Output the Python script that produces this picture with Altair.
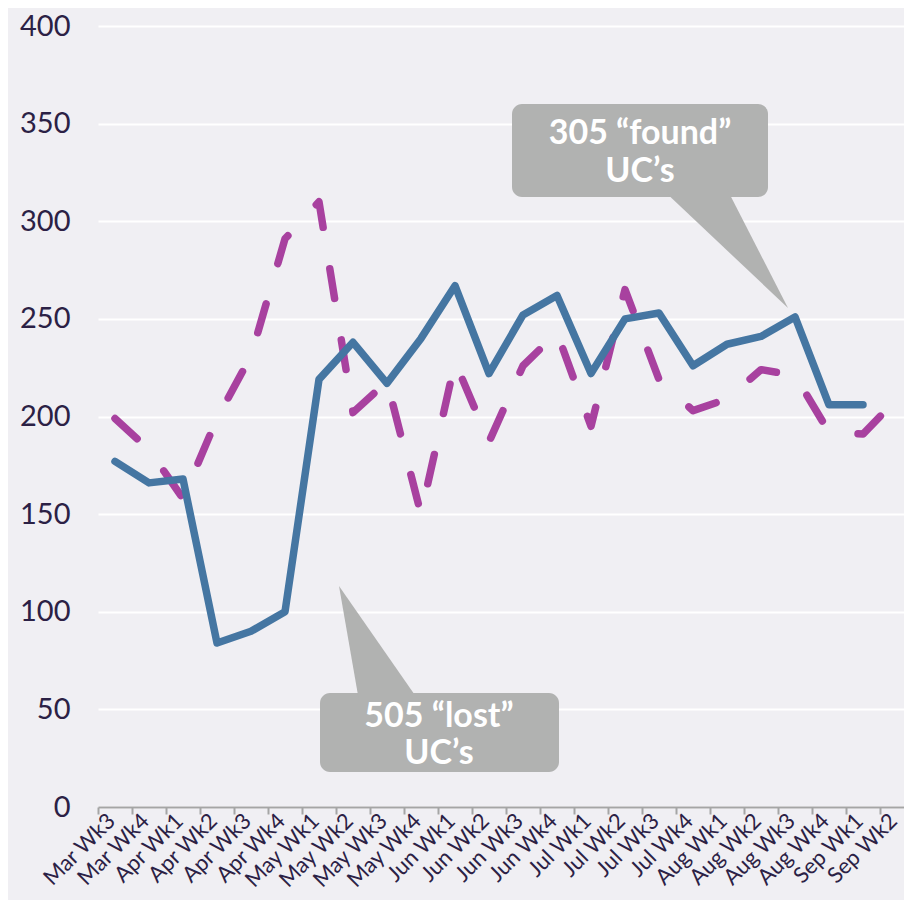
import altair as alt
import pandas as pd

weeks = ["Mar Wk3", "Mar Wk4", "Apr Wk1", "Apr Wk2", "Apr Wk3", "Apr Wk4",
         "May Wk1", "May Wk2", "May Wk3", "May Wk4", "Jun Wk1", "Jun Wk2",
         "Jun Wk3", "Jun Wk4", "Jul Wk1", "Jul Wk2", "Jul Wk3", "Jul Wk4",
         "Aug Wk1", "Aug Wk2", "Aug Wk3", "Aug Wk4", "Sep Wk1", "Sep Wk2"]
solid_values = [177, 166, 168, 84, 90, 100, 219, 238, 217, 240, 267, 222,
                252, 262, 222, 250, 253, 226, 237, 241, 251, 206, 206, None]
dashed_values = [199, 183, 158, 199, 231, 291, 310, 202, 218, 150, 228, 187,
                 226, 243, 195, 265, 219, 203, 209, 224, 221, 192, 191, 209]
y_ticks = [0, 50, 100, 150, 200, 250, 300, 350, 400]
callout_found = ["305 \u201cfound\u201d", "UC\u2019s"]
callout_lost = ["505 \u201clost\u201d", "UC\u2019s"]

BLUE = "#4576a2"
PURPLE = "#a8419f"
GRAY = "#b1b2b1"
TEXT = "#2b2145"
FONT = "Lato"

solid_df = pd.DataFrame({"week": weeks, "value": solid_values}).dropna()
dashed_df = pd.DataFrame({"week": weeks, "value": dashed_values})

x_enc = alt.X(
    "week:N", sort=weeks, title=None, bandPosition=0.5,
    scale=alt.Scale(type="band", domain=weeks, paddingInner=0, paddingOuter=0),
    axis=alt.Axis(labelAngle=-45, labelAlign="right", labelBaseline="middle",
                  labelFontSize=22, labelColor=TEXT, labelFont=FONT,
                  domainColor="#a5a5a5", domainWidth=2, tickColor="#a5a5a5",
                  tickWidth=2, tickSize=7, tickBand="extent", labelPadding=3,
                  labelOffset=-4, grid=False),
)
y_enc = alt.Y(
    "value:Q", title=None,
    scale=alt.Scale(domain=[0, 400], nice=False, zero=True),
    axis=alt.Axis(values=y_ticks, ticks=False, domain=False, labelPadding=28,
                  labelFontSize=29, labelFont=FONT, labelColor=TEXT,
                  gridColor="#ffffff", gridWidth=2),
)

one = alt.Data(values=[{"a": 1}])

# plot area origin is 2px lower than before; annotation pixel offsets adjusted
box_found = alt.Chart(one).mark_rect(color=GRAY, cornerRadius=10).encode(
    x=alt.value(414), x2=alt.value(670), y=alt.value(78), y2=alt.value(171))
ptr_found = alt.Chart(one).mark_point(
    shape="M564,163L629,163L690,282Z", filled=True, color=GRAY, opacity=1,
    strokeWidth=0, size=4).encode(x=alt.value(0), y=alt.value(0))
txt_found = alt.Chart(one).mark_text(
    text=callout_found, font=FONT, fontSize=34, fontWeight="bold",
    color="#ffffff", align="center", baseline="alphabetic", lineHeight=38).encode(
    x=alt.value(542), y=alt.value(118))

box_lost = alt.Chart(one).mark_rect(color=GRAY, cornerRadius=10).encode(
    x=alt.value(222), x2=alt.value(461), y=alt.value(667), y2=alt.value(746))
ptr_lost = alt.Chart(one).mark_point(
    shape="M241,560L321,675L261,675Z", filled=True, color=GRAY, opacity=1,
    strokeWidth=0, size=4).encode(x=alt.value(0), y=alt.value(0))
txt_lost = alt.Chart(one).mark_text(
    text=callout_lost, font=FONT, fontSize=34, fontWeight="bold",
    color="#ffffff", align="center", baseline="alphabetic", lineHeight=37).encode(
    x=alt.value(341), y=alt.value(701))

dashed = alt.Chart(dashed_df).mark_line(
    color=PURPLE, strokeWidth=7.5, strokeDash=[30, 42], strokeCap="round",
    strokeJoin="round").encode(x=x_enc, y=y_enc)
solid = alt.Chart(solid_df).mark_line(
    color=BLUE, strokeWidth=7.5, strokeCap="round", strokeJoin="round").encode(
    x=x_enc, y=y_enc)

chart = alt.layer(
    dashed, box_found, ptr_found, txt_found, box_lost, ptr_lost, txt_lost, solid
).properties(
    width=816, height=781,
    autosize=alt.AutoSizeParams(type="none"),
    padding={"left": 90, "top": 18, "right": -10, "bottom": 93},
    background="#f0eff3",
).configure_view(stroke=None)

chart.save("out.html", embed_options={"renderer": "svg", "actions": False})
